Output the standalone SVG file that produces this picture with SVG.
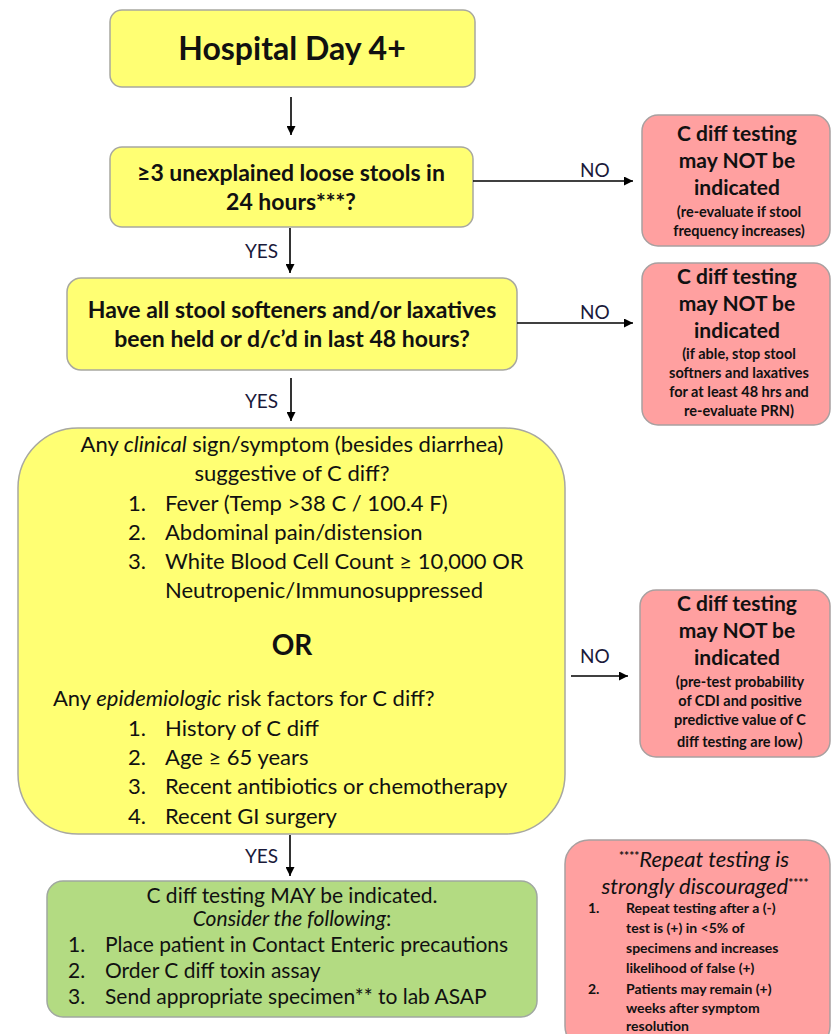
<svg xmlns="http://www.w3.org/2000/svg" width="832" height="1034" viewBox="0 0 832 1034">
<defs>
<marker id="ah" viewBox="0 0 10 10" refX="10" refY="5" markerWidth="9" markerHeight="9" markerUnits="userSpaceOnUse" orient="auto"><path d="M0,0 L10,5 L0,10 z" fill="#000"/></marker>
<style>
text{font-family:Lato,"Open Sans","Liberation Sans",sans-serif;fill:#111}
.y{fill:#FFFF73;stroke:#A8A8A0;stroke-width:1.5}
.r{fill:#FFA0A0;stroke:#A8A0A0;stroke-width:1.5}
.g{fill:#B3DB82;stroke:#A0A8A0;stroke-width:1.5}
.c{text-anchor:middle}
.b{font-weight:bold}
.i{font-style:italic}
.q{font-size:23px;font-weight:bold}
.l{font-size:22px}
.gl{font-size:21px}
.rt{font-size:21px;font-weight:bold;text-anchor:middle}
.rs{font-size:14.5px;font-weight:bold;text-anchor:middle}
.ns{font-size:14px;font-weight:bold}
.lab{font-size:19px;fill:#1a1a3a}
.conn line{stroke:#000;stroke-width:1.6;marker-end:url(#ah)}
</style>
</defs>
<rect width="832" height="1034" fill="#fff"/>

<g id="start">
<rect class="y" x="110" y="10" width="365" height="77" rx="12"/>
<text class="c b" x="292" y="60" font-size="32">Hospital Day 4+</text>
</g>

<g id="q1">
<rect class="y" x="110" y="147" width="363" height="80" rx="12"/>
<text class="c q" x="291" y="181">≥3 unexplained loose stools in</text>
<text class="c q" x="291" y="210">24 hours***?</text>
</g>

<g id="q2">
<rect class="y" x="67" y="278" width="450" height="92" rx="14"/>
<text class="c q" x="292" y="318">Have all stool softeners and/or laxatives</text>
<text class="c q" x="292" y="347">been held or d/c’d in last 48 hours?</text>
</g>

<g id="q3">
<rect class="y" x="18" y="428" width="547" height="406" rx="60"/>
<text class="c l" x="292" y="452">Any <tspan class="i">clinical</tspan> sign/symptom (besides diarrhea)</text>
<text class="c l" x="292" y="481">suggestive of C diff?</text>
<text class="l" x="128" y="511">1.</text><text class="l" x="165" y="511">Fever (Temp &gt;38 C / 100.4 F)</text>
<text class="l" x="128" y="540">2.</text><text class="l" x="165" y="540">Abdominal pain/distension</text>
<text class="l" x="128" y="569">3.</text><text class="l" x="165" y="569">White Blood Cell Count ≥ 10,000 OR</text>
<text class="l" x="165" y="598">Neutropenic/Immunosuppressed</text>
<text class="c b" x="292" y="655" font-size="28">OR</text>
<text class="l" x="53" y="706">Any <tspan class="i">epidemiologic</tspan> risk factors for C diff?</text>
<text class="l" x="128" y="736">1.</text><text class="l" x="165" y="736">History of C diff</text>
<text class="l" x="128" y="765">2.</text><text class="l" x="165" y="765">Age ≥ 65 years</text>
<text class="l" x="128" y="794">3.</text><text class="l" x="165" y="794">Recent antibiotics or chemotherapy</text>
<text class="l" x="128" y="824">4.</text><text class="l" x="165" y="824">Recent GI surgery</text>
</g>

<g id="result">
<rect class="g" x="47" y="881" width="490" height="136" rx="16"/>
<text class="c gl" x="292" y="903">C diff testing MAY be indicated.</text>
<text class="c gl" x="292" y="926"><tspan class="i">Consider the following</tspan>:</text>
<text class="gl" x="68" y="952">1.</text><text class="gl" x="105" y="952">Place patient in Contact Enteric precautions</text>
<text class="gl" x="68" y="978">2.</text><text class="gl" x="105" y="978">Order C diff toxin assay</text>
<text class="gl" x="68" y="1004">3.</text><text class="gl" x="105" y="1004">Send appropriate specimen** to lab ASAP</text>
</g>

<g id="no1">
<rect class="r" x="642" y="115" width="188" height="131" rx="16"/>
<text class="rt" x="737" y="141">C diff testing</text>
<text class="rt" x="737" y="168">may NOT be</text>
<text class="rt" x="737" y="195">indicated</text>
<text class="rs" x="739" y="217">(re-evaluate if stool</text>
<text class="rs" x="739" y="236">frequency increases)</text>
</g>

<g id="no2">
<rect class="r" x="642" y="263" width="188" height="162" rx="16"/>
<text class="rt" x="737" y="284">C diff testing</text>
<text class="rt" x="737" y="311">may NOT be</text>
<text class="rt" x="737" y="338">indicated</text>
<text class="rs" x="739" y="359">(if able, stop stool</text>
<text class="rs" x="739" y="378">softners and laxatives</text>
<text class="rs" x="739" y="397">for at least 48 hrs and</text>
<text class="rs" x="739" y="416">re-evaluate PRN)</text>
</g>

<g id="no3">
<rect class="r" x="640" y="590" width="190" height="167" rx="16"/>
<text class="rt" x="737" y="611">C diff testing</text>
<text class="rt" x="737" y="638">may NOT be</text>
<text class="rt" x="737" y="665">indicated</text>
<text class="rs" x="740" y="687">(pre-test probability</text>
<text class="rs" x="740" y="706">of CDI and positive</text>
<text class="rs" x="740" y="725">predictive value of C</text>
<text class="rs" x="740" y="747">diff testing are low<tspan font-size="20" font-weight="normal">)</tspan></text>
</g>

<g id="note">
<rect class="r" x="565" y="840" width="265" height="210" rx="24"/>
<text class="c i" x="704" y="867" font-size="22"><tspan font-size="12" dy="-7" font-weight="bold" font-style="normal">****</tspan><tspan dy="7">Repeat testing is</tspan></text>
<text class="c i" x="705" y="894" font-size="22">strongly discouraged<tspan font-size="12" dy="-7" font-weight="bold" font-style="normal">****</tspan></text>
<text class="ns" x="588" y="913">1.</text>
<text class="ns" x="626" y="913">Repeat testing after a (-)</text>
<text class="ns" x="626" y="933">test is (+) in &lt;5% of</text>
<text class="ns" x="626" y="953">specimens and increases</text>
<text class="ns" x="626" y="973">likelihood of false (+)</text>
<text class="ns" x="588" y="994">2.</text>
<text class="ns" x="626" y="994">Patients may remain (+)</text>
<text class="ns" x="626" y="1013">weeks after symptom</text>
<text class="ns" x="626" y="1031">resolution</text>
</g>

<g id="connectors" class="conn">
<line x1="291" y1="97" x2="291" y2="135"/>
<line x1="473" y1="181" x2="633" y2="181"/>
<line x1="290" y1="228" x2="290" y2="273"/>
<line x1="517" y1="323" x2="633" y2="323"/>
<line x1="291" y1="378" x2="291" y2="421"/>
<line x1="571" y1="676" x2="628" y2="676"/>
<line x1="290" y1="835" x2="290" y2="876"/>
<text class="lab" x="580" y="177">NO</text>
<text class="lab" x="580" y="319">NO</text>
<text class="lab" x="580" y="663">NO</text>
<text class="lab" x="245" y="258">YES</text>
<text class="lab" x="245" y="408">YES</text>
<text class="lab" x="245" y="863">YES</text>
</g>
</svg>
